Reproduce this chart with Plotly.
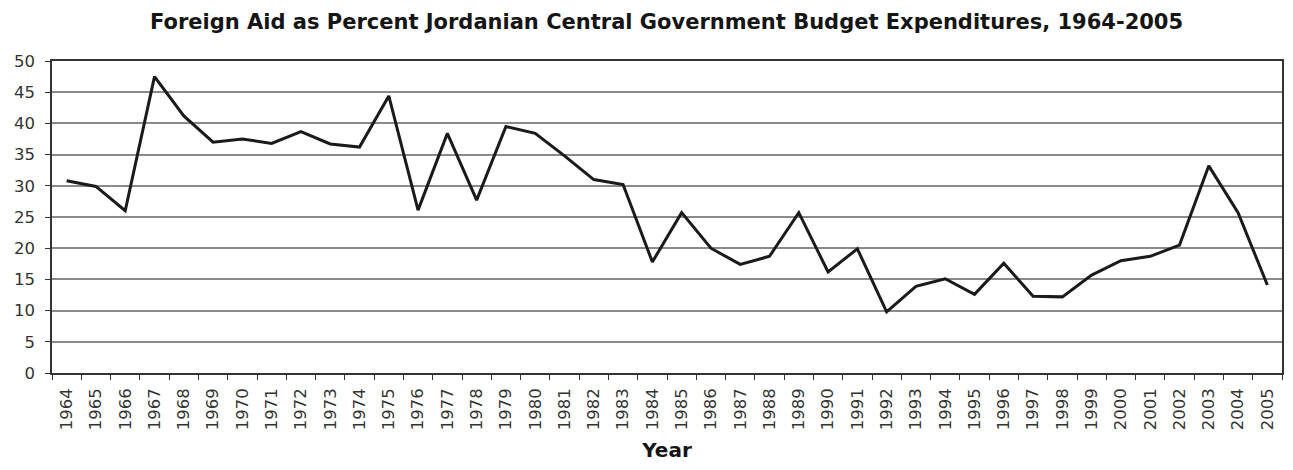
import plotly.graph_objects as go

years = [str(y) for y in range(1964, 2006)]
aid_pct = [30.8, 29.9, 26.0, 47.5, 41.2, 37.0, 37.5, 36.8, 38.7, 36.7,
           36.2, 44.4, 26.1, 38.4, 27.7, 39.5, 38.4, 34.8, 31.0, 30.2,
           17.8, 25.7, 20.0, 17.4, 18.7, 25.7, 16.2, 19.9, 9.8, 13.9,
           15.1, 12.6, 17.6, 12.3, 12.2, 15.7, 18.0, 18.7, 20.5, 33.2,
           25.7, 14.1]
y_ticks = list(range(0, 55, 5))

FONT = "DejaVu Sans, Liberation Sans, Arial, sans-serif"

fig = go.Figure()
fig.add_trace(go.Scatter(x=years, y=aid_pct, mode="lines",
                         line=dict(color="#1a1a1a", width=3), showlegend=False))

fig.update_layout(
    width=1277, height=454,
    margin=dict(l=44, r=3, t=53, b=89, autoexpand=False),
    paper_bgcolor="white", plot_bgcolor="white",
    font=dict(family=FONT, color="#333"),
    title=dict(text="<b>Foreign Aid as Percent Jordanian Central Government Budget Expenditures, 1964-2005</b>",
               x=0.5157, xanchor="center", y=0.971, yanchor="middle",
               font=dict(size=21, color="#151515", family=FONT)),
)
fig.update_xaxes(type="category", range=[-0.5, len(years) - 0.5],
                 tickson="boundaries", ticks="outside", ticklen=5, tickcolor="#333",
                 tickangle=-90, tickfont=dict(size=16.5, color="#333", family=FONT),
                 ticklabelstandoff=7, automargin=False,
                 showgrid=False, showline=True, linecolor="#333", linewidth=1.5,
                 mirror=True,
                 title=dict(text="<b>Year</b>", font=dict(size=20, color="#151515", family=FONT),
                            standoff=19))
fig.update_yaxes(range=[0, 50], tickvals=y_ticks, ticks="outside", ticklen=5, tickcolor="#333",
                 tickfont=dict(size=16.5, color="#333", family=FONT),
                 ticklabelstandoff=7, automargin=False,
                 showgrid=True, gridcolor="#8a8a8a", gridwidth=1.5,
                 showline=True, linecolor="#333", linewidth=1.5, mirror=True, zeroline=False)

fig.write_html("out.html")
